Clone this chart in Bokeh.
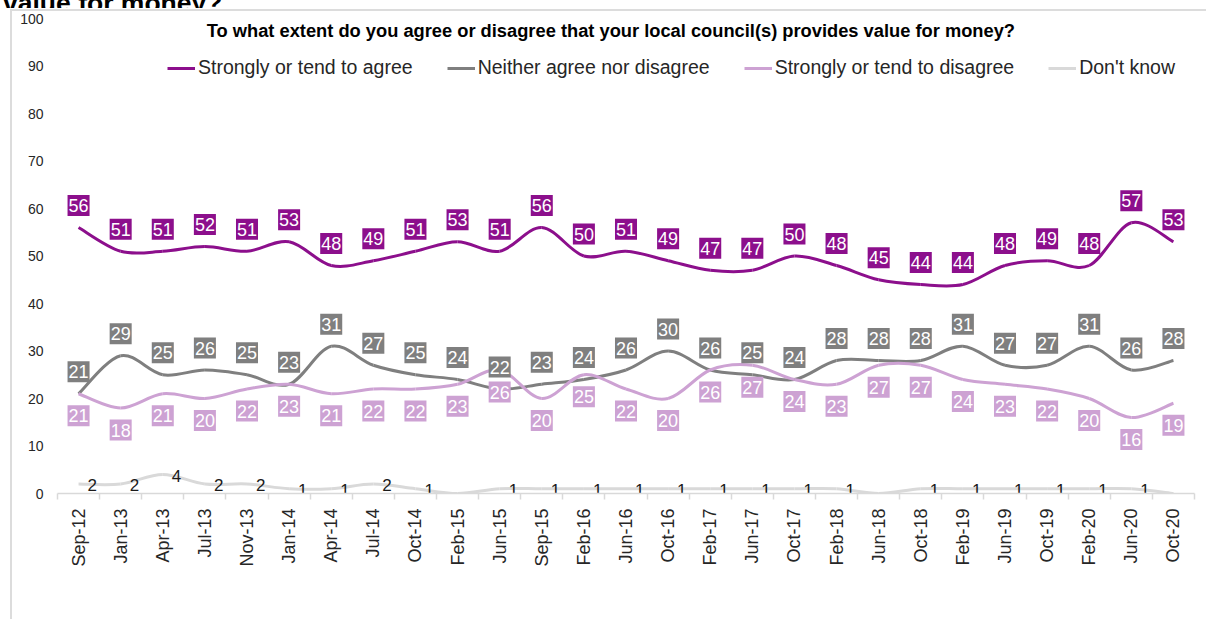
import math
from bokeh.plotting import figure
from bokeh.layouts import column
from bokeh.models import (FixedTicker, Legend, LegendItem, Label, ColumnDataSource, Range1d, Div)
from bokeh.core.properties import value
from bokeh.embed import file_html
from bokeh.resources import INLINE

dates = ["Sep-12", "Jan-13", "Apr-13", "Jul-13", "Nov-13", "Jan-14", "Apr-14", "Jul-14",
         "Oct-14", "Feb-15", "Jun-15", "Sep-15", "Feb-16", "Jun-16", "Oct-16", "Feb-17",
         "Jun-17", "Oct-17", "Feb-18", "Jun-18", "Oct-18", "Feb-19", "Jun-19", "Oct-19",
         "Feb-20", "Jun-20", "Oct-20"]
agree = [56, 51, 51, 52, 51, 53, 48, 49, 51, 53, 51, 56, 50, 51, 49, 47, 47, 50, 48, 45,
         44, 44, 48, 49, 48, 57, 53]
neither = [21, 29, 25, 26, 25, 23, 31, 27, 25, 24, 22, 23, 24, 26, 30, 26, 25, 24, 28, 28,
           28, 31, 27, 27, 31, 26, 28]
disagree = [21, 18, 21, 20, 22, 23, 21, 22, 22, 23, 26, 20, 25, 22, 20, 26, 27, 24, 23, 27,
            27, 24, 23, 22, 20, 16, 19]
dont_know = [2, 2, 4, 2, 2, 1, 1, 2, 1, 0, 1, 1, 1, 1, 1, 1, 1, 1, 1, 0, 1, 1, 1, 1, 1, 1, 0]

series_names = ["Strongly or tend to agree", "Neither agree nor disagree",
                "Strongly or tend to disagree", "Don't know"]
chart_title = "To what extent do you agree or disagree that your local council(s) provides value for money?"
page_title = "value for money?"

C_AGREE = "#8C0F8C"
C_NEITHER = "#7F7F7F"
C_DIS = "#CDA2D3"
C_DK = "#D9D9D9"
FONT = "Liberation Sans"

# slide heading, cut off by the top edge of the picture
head = Div(text=('<div style="font-family: \'Liberation Sans\', Arial, sans-serif; font-weight: bold; '
                 'font-size: 26.5px; line-height: 28px; margin-top: -18px; margin-left: 3px; '
                 'white-space: nowrap; color: black;">' + page_title + '</div>'),
           width=1206, height=8, margin=0,
           styles={"overflow": "hidden"})

W, H = 1206, 611
p = figure(width=W, height=H, output_backend="svg", toolbar_location=None,
           x_range=Range1d(-0.5, len(dates) - 0.5), y_range=Range1d(0, 100))
p.margin = 0
p.styles = {
    "background-image": "linear-gradient(#DCDCDC, #DCDCDC), linear-gradient(#DCDCDC, #DCDCDC)",
    "background-size": "2px 100%, 100% 2px",
    "background-position": "10px 1px, 10px 1px",
    "background-repeat": "no-repeat",
}
p.min_border_left = 57
p.min_border_right = 12
p.min_border_top = 10
p.min_border_bottom = 126
p.outline_line_color = None
p.xgrid.visible = False
p.ygrid.visible = False
p.background_fill_color = "white"
p.border_fill_alpha = 0

# y axis
p.yaxis.ticker = FixedTicker(ticks=list(range(0, 101, 10)))
p.yaxis.axis_line_color = None
p.yaxis.major_tick_line_color = None
p.yaxis.minor_tick_line_color = None
p.yaxis.major_label_standoff = 8
p.yaxis.major_label_text_font = FONT
p.yaxis.major_label_text_font_size = "14px"
p.yaxis.major_label_text_color = "#262626"

# x axis
n = len(dates)
p.xaxis.ticker = FixedTicker(ticks=list(range(n)), minor_ticks=[i - 0.5 for i in range(n + 1)])
p.xaxis.major_label_overrides = {i: d for i, d in enumerate(dates)}
p.xaxis.major_label_orientation = math.pi / 2
p.xaxis.major_tick_in = 0
p.xaxis.major_tick_out = 0
p.xaxis.minor_tick_in = 0
p.xaxis.minor_tick_out = 6
p.xaxis.minor_tick_line_color = "#D9D9D9"
p.xaxis.minor_tick_line_width = 1.5
p.xaxis.axis_line_color = "#D9D9D9"
p.xaxis.axis_line_width = 1.5
p.xaxis.major_label_standoff = 9
p.xaxis.major_label_text_font = FONT
p.xaxis.major_label_text_font_size = "18px"
p.xaxis.major_label_text_color = "#262626"


def bezier_source(vals):
    xs = list(range(len(vals)))
    d = dict(x0=[], y0=[], x1=[], y1=[], cx0=[], cy0=[], cx1=[], cy1=[])
    m = len(vals)
    for i in range(m - 1):
        im1 = max(i - 1, 0)
        ip2 = min(i + 2, m - 1)
        d["x0"].append(xs[i]); d["y0"].append(vals[i])
        d["x1"].append(xs[i + 1]); d["y1"].append(vals[i + 1])
        d["cx0"].append(xs[i] + (xs[i + 1] - xs[im1]) / 6.0)
        d["cy0"].append(vals[i] + (vals[i + 1] - vals[im1]) / 6.0)
        d["cx1"].append(xs[i + 1] - (xs[ip2] - xs[i]) / 6.0)
        d["cy1"].append(vals[i + 1] - (vals[ip2] - vals[i]) / 6.0)
    return ColumnDataSource(d)


renderers = []
for vals, col in [(agree, C_AGREE), (neither, C_NEITHER), (disagree, C_DIS), (dont_know, C_DK)]:
    r = p.bezier(x0="x0", y0="y0", x1="x1", y1="y1", cx0="cx0", cy0="cy0", cx1="cx1",
                 cy1="cy1", source=bezier_source(vals), line_color=col, line_width=3)
    renderers.append(r)

# boxed data labels
for vals, col, off in [(agree, C_AGREE, -22), (neither, C_NEITHER, -22), (disagree, C_DIS, 22)]:
    src = ColumnDataSource(dict(x=list(range(n)), y=vals, t=[str(v) for v in vals]))
    p.text(x="x", y="y", text="t", source=src, y_offset=off, text_align="center",
           text_baseline="middle", text_color="white", text_font=value(FONT),
           text_font_size="18px", background_fill_color=col, padding=(1, 4))

dk_idx = [i for i, v in enumerate(dont_know) if v != 0]
dk_src = ColumnDataSource(dict(x=dk_idx, y=[dont_know[i] for i in dk_idx],
                               t=[str(dont_know[i]) for i in dk_idx]))
p.text(x="x", y="y", text="t", source=dk_src, x_offset=9, y_offset=1, text_align="left",
       text_baseline="middle", text_color="#1a1a1a", text_font=value(FONT),
       text_font_size="17px")

legend = Legend(items=[LegendItem(label=nm, renderers=[r]) for nm, r in zip(series_names, renderers)],
                orientation="horizontal", location=(110, 414))
legend.padding = 0
legend.margin = 0
legend.spacing = 34
legend.label_standoff = 3
legend.glyph_width = 28
legend.glyph_height = 20
legend.border_line_color = None
legend.background_fill_alpha = 0
legend.label_text_font = FONT
legend.label_text_font_size = "19.5px"
legend.label_text_color = "#262626"
p.add_layout(legend, "center")

p.add_layout(Label(x=12.64, y=97.4, text=chart_title, text_align="center",
                   text_baseline="middle", text_font=FONT, text_font_style="bold",
                   text_font_size="18.3px", text_color="black"))

layout = column(head, p, spacing=0)
open("out.html", "w").write(file_html(layout, INLINE))
